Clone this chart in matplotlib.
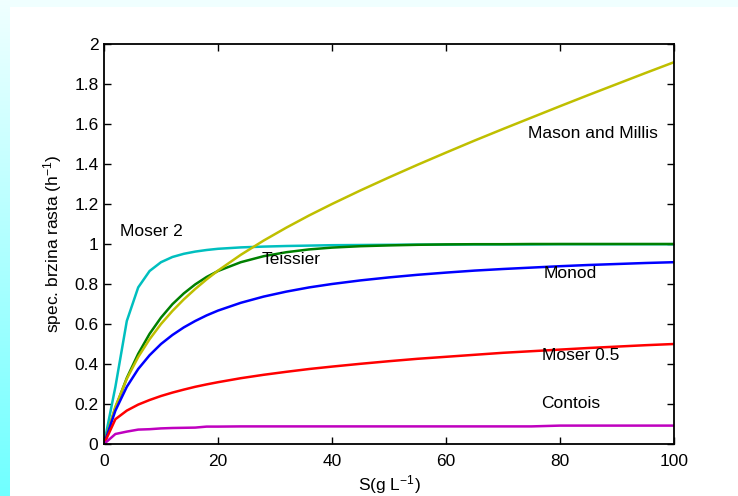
import numpy as np
import matplotlib
matplotlib.use("Agg")
import matplotlib.pyplot as plt

plt.rcParams['font.family'] = ['Liberation Sans', 'DejaVu Sans']
plt.rcParams['mathtext.fontset'] = 'custom'
plt.rcParams['mathtext.rm'] = 'Liberation Sans'
plt.rcParams['mathtext.it'] = 'Liberation Sans:italic'
plt.rcParams['mathtext.bf'] = 'Liberation Sans:bold'
plt.rcParams['axes.unicode_minus'] = False

S = [0, 2, 4, 6, 8, 10, 12, 14, 16, 18, 20, 24, 28, 32, 36, 40, 45, 50, 55, 60,
     65, 70, 75, 80, 85, 90, 95, 100]

mason = [0, 0.187, 0.326, 0.435, 0.524, 0.600, 0.665, 0.723, 0.775, 0.823, 0.867,
         0.946, 1.017, 1.082, 1.143, 1.200, 1.268, 1.333, 1.396, 1.457, 1.517,
         1.575, 1.632, 1.689, 1.745, 1.800, 1.855, 1.909]
moser2 = [0, 0.286, 0.615, 0.783, 0.865, 0.909, 0.935, 0.951, 0.962, 0.970, 0.976,
          0.983, 0.987, 0.990, 0.992, 0.994, 0.995, 0.996, 0.997, 0.997, 0.998,
          0.998, 0.998, 0.999, 0.999, 0.999, 0.999, 0.999]
teissier = [0, 0.181, 0.330, 0.451, 0.551, 0.632, 0.699, 0.753, 0.798, 0.835, 0.865,
            0.909, 0.939, 0.959, 0.973, 0.982, 0.989, 0.993, 0.996, 0.998, 0.999,
            0.999, 1.0, 1.0, 1.0, 1.0, 1.0, 1.0]
monod = [0, 0.167, 0.286, 0.375, 0.444, 0.500, 0.545, 0.583, 0.615, 0.643, 0.667,
         0.706, 0.737, 0.762, 0.783, 0.800, 0.818, 0.833, 0.846, 0.857, 0.867,
         0.875, 0.882, 0.889, 0.895, 0.900, 0.905, 0.909]
moser05 = [0, 0.124, 0.167, 0.197, 0.220, 0.240, 0.257, 0.272, 0.286, 0.298, 0.309,
           0.329, 0.346, 0.361, 0.375, 0.387, 0.401, 0.414, 0.426, 0.436, 0.446,
           0.456, 0.464, 0.472, 0.480, 0.487, 0.494, 0.500]
contois = [0, 0.050, 0.062, 0.072, 0.074, 0.078, 0.080, 0.081, 0.082, 0.087, 0.087,
           0.088, 0.088, 0.088, 0.088, 0.088, 0.088, 0.088, 0.088, 0.088, 0.088,
           0.088, 0.088, 0.092, 0.092, 0.092, 0.092, 0.092]

series = [
    ("Moser 2", moser2, "#00BFBF"),
    ("Teissier", teissier, "#008000"),
    ("Mason and Millis", mason, "#BFBF00"),
    ("Monod", monod, "#0000FF"),
    ("Moser 0.5", moser05, "#FF0000"),
    ("Contois", contois, "#BF00BF"),
]

labels = [
    ("Moser 2", 2.8, 1.065),
    ("Teissier", 27.7, 0.92),
    ("Mason and Millis", 74.4, 1.555),
    ("Monod", 77.2, 0.85),
    ("Moser 0.5", 76.8, 0.44),
    ("Contois", 76.7, 0.20),
]

W, H = 738, 496
fig = plt.figure(figsize=(W / 100, H / 100), dpi=100)
fig.patch.set_facecolor("white")

# decorative background strips
top = fig.add_axes([0, 1 - 7 / H, 1, 7 / H])
top.set_axis_off()
top.add_patch(plt.Rectangle((0, 0), 1, 1, color="#F0FFFF", transform=top.transAxes))
left = fig.add_axes([0, 0, 10 / W, 1])
left.set_axis_off()
grad = np.linspace(0, 1, 256).reshape(-1, 1)
c0 = np.array([0xF0, 0xFF, 0xFF]) / 255
c1 = np.array([0x70, 0xFF, 0xFF]) / 255
img = c0[None, None, :] * (1 - grad[:, :, None]) + c1[None, None, :] * grad[:, :, None]
left.imshow(img, aspect="auto", extent=[0, 1, 0, 1], origin="upper")

ax = fig.add_axes([104 / W, 52 / H, 570 / W, 400 / H])
for name, vals, col in series:
    ax.plot(S, vals, color=col, lw=1.8)

for txt, x, y in labels:
    ax.text(x, y, txt, fontsize=12.5, ha="left", va="center", color="black")

ax.set_xlim(0, 100)
ax.set_ylim(0, 2)
ax.set_xticks(np.arange(0, 101, 20))
ax.set_yticks(np.arange(0, 2.01, 0.2))
ax.set_yticklabels(["0", "0.2", "0.4", "0.6", "0.8", "1", "1.2", "1.4", "1.6", "1.8", "2"])
ax.tick_params(direction="in", length=5, width=1, top=True, right=True,
               labelsize=12.5)
ax.tick_params(axis="x", pad=7)
ax.tick_params(axis="y", pad=4)
for sp in ax.spines.values():
    sp.set_linewidth(1.3)
ax.set_xlabel("S(g L$^{-1}$)", fontsize=12.5, labelpad=3)
ax.set_ylabel("spec. brzina rasta (h$^{-1}$)", fontsize=12.5, labelpad=7)

fig.savefig("out.png", dpi=100, facecolor="white")
